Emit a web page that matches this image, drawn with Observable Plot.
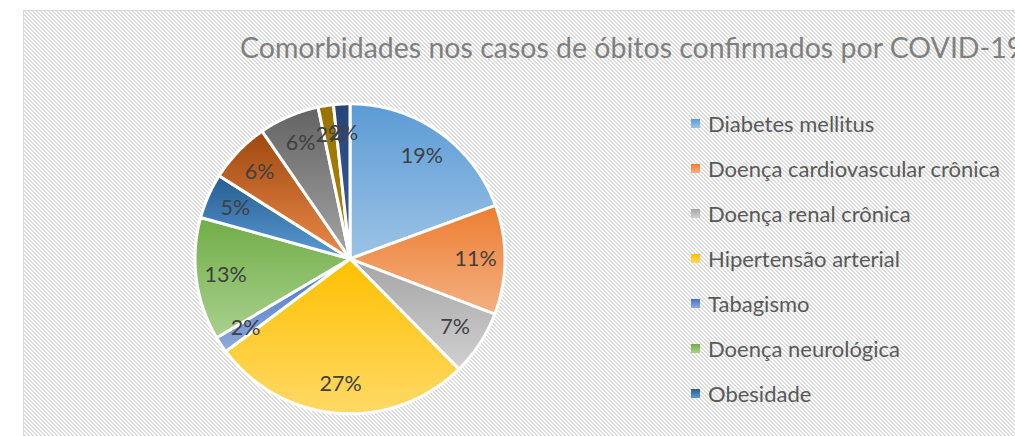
<!DOCTYPE html>
<html><head><meta charset="utf-8">
<script src="https://cdn.jsdelivr.net/npm/d3@7"></script>
<script src="https://cdn.jsdelivr.net/npm/@observablehq/plot@0.6"></script>
<style>
html,body{margin:0;padding:0;background:#fff;overflow:hidden;width:1015px;height:436px;position:relative}
#frame{position:absolute;left:23px;top:10px;width:1100px;height:500px;border:1px solid #d9d9d9;
 background-image:url("data:image/svg+xml,%3Csvg xmlns='http://www.w3.org/2000/svg' width='4' height='4' shape-rendering='crispEdges'%3E%3Cpath d='M0 0h2v1h-2zM1 1h2v1h-2zM2 2h2v1h-2zM3 3h1v1h-1zM0 3h1v1h-1z' fill='%23dcdcdc'/%3E%3C/svg%3E");}
#plot{position:absolute;left:0;top:0}
#overlay{position:absolute;left:0;top:0}
</style></head>
<body>
<div id="frame"></div>
<svg id="defs" width="0" height="0" style="position:absolute"><defs></defs></svg>
<div id="plot"></div>
<svg id="overlay" width="1015" height="436"></svg>
<script>
const title = "Comorbidades nos casos de óbitos confirmados por COVID-19";
const categories = ["Diabetes mellitus","Doença cardiovascular crônica","Doença renal crônica","Hipertensão arterial","Tabagismo","Doença neurológica","Obesidade","Pneumopatia crônica","Imunodepressão","Doença hepática","Outras"];
const values = [19.4, 11.4, 6.8, 27.2, 1.7, 12.8, 4.7, 6.4, 6.3, 1.6, 1.7];
const colorTop = ["#5b9bd5","#ed7d31","#a5a5a5","#ffc000","#4472c4","#70ad47","#255e91","#9e480e","#636363","#997300","#264478"];
const colorBottom = ["#9dc3e6","#f4b183","#d0d0d0","#ffd966","#8faadc","#a9d18e","#5b9bd5","#ec8a4a","#a5a5a5","#b38600","#3a5ea0"];
const legendCount = 7; // only the first seven entries fit in the legend box

// gradients
const defs = d3.select("#defs defs");
categories.forEach((c,i)=>{
  const g = defs.append("linearGradient").attr("id","g"+i).attr("x1",0).attr("y1",0).attr("x2",0).attr("y2",1);
  g.append("stop").attr("offset","0%").attr("stop-color",colorTop[i]);
  g.append("stop").attr("offset","100%").attr("stop-color",colorBottom[i]);
});

const total = d3.sum(values);
const arcs = d3.pie().sort(null).value(d=>d)(values);
const slices = arcs.map((a,i)=>({i, name:categories[i], value:values[i], a0:a.startAngle, a1:a.endAngle,
  mid:(a.startAngle+a.endAngle)/2, label: Math.round(values[i]/total*100)+"%", fill:`url(#g${i})`}));
const pts = [];
for (const s of slices){
  pts.push({i:s.i, x:0, y:0, fill:s.fill});
  const n = Math.max(2, Math.ceil((s.a1-s.a0)/(Math.PI/360)));
  for (let k=0;k<=n;k++){ const a = s.a0+(s.a1-s.a0)*k/n; pts.push({i:s.i, x:Math.sin(a), y:Math.cos(a), fill:s.fill}); }
  pts.push({i:s.i, x:0, y:0, fill:s.fill});
}
const cx = 349.5, cy = 258.3, R = 155, kLab = 0.81;
const font = "Lato, 'Open Sans', sans-serif";
const chart = Plot.plot({
  width:1015, height:436, margin:0,
  style:{background:"transparent", overflow:"visible"},
  x:{domain:[-1,1], range:[cx-R, cx+R], axis:null},
  y:{domain:[-1,1], range:[cy+R, cy-R], axis:null},
  color:{type:"identity"},
  marks:[
    Plot.line(pts, {x:"x", y:"y", z:"i", fill:"fill", stroke:"white", strokeWidth:3, strokeLinejoin:"round", curve:"linear"}),
    Plot.text(slices, {x:d=>kLab*Math.sin(d.mid), y:d=>kLab*Math.cos(d.mid), text:"label", fill:"#404040", fontSize:21.5, fontFamily:font})
  ]
});
document.getElementById("plot").appendChild(chart);

const ov = d3.select("#overlay");
ov.append("text").attr("x",240).attr("y",57.5).attr("font-family",font).attr("font-size",28.5).attr("fill","#7f7f7f").text(title);
const lg = ov.selectAll("g.leg").data(categories.slice(0,legendCount)).join("g").attr("class","leg")
  .attr("transform",(d,i)=>`translate(0,${45*i})`);
lg.append("rect").attr("x",691).attr("y",119).attr("width",9).attr("height",9).attr("fill",(d,i)=>`url(#g${i})`);
lg.append("text").attr("x",708).attr("y",131.5).attr("font-family",font).attr("font-size",22).attr("fill","#595959").text(d=>d);
</script>
</body></html>
